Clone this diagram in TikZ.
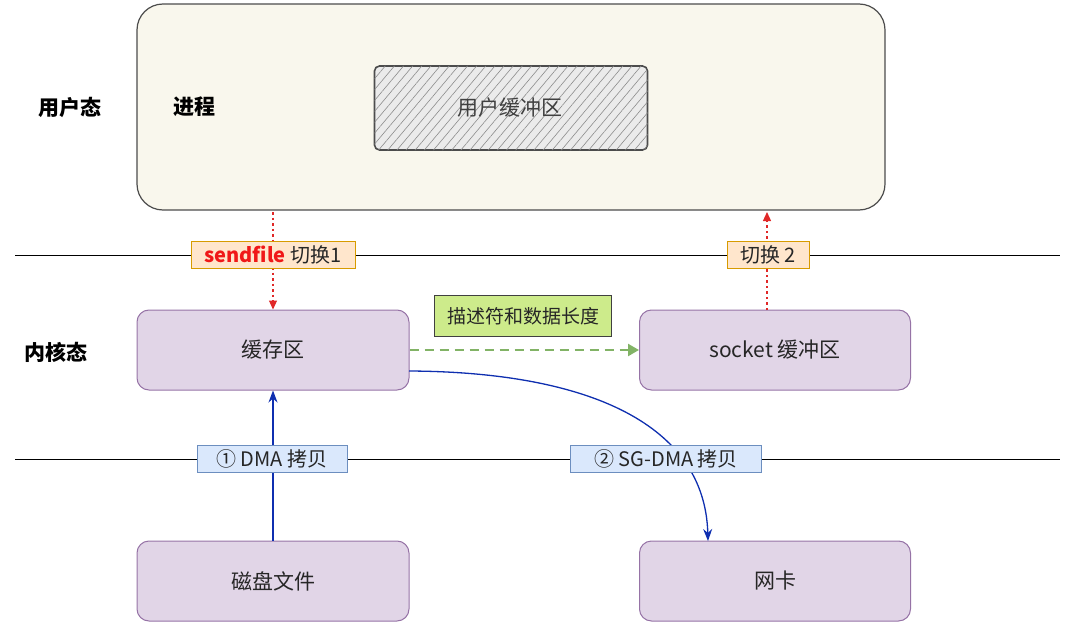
\documentclass[tikz,border=0pt]{standalone}
\usepackage{fontspec}
\setmainfont{Noto Sans CJK SC}
\usetikzlibrary{arrows.meta,patterns.meta}
\definecolor{cream}{HTML}{F9F7ED}
\definecolor{purfill}{HTML}{E1D5E7}
\definecolor{purdraw}{HTML}{9673A6}
\definecolor{orfill}{HTML}{FFE6CC}
\definecolor{ordraw}{HTML}{D79B00}
\definecolor{bluefill}{HTML}{DAE8FC}
\definecolor{bluedraw}{HTML}{6C8EBF}
\definecolor{limefill}{HTML}{CDEB8B}
\definecolor{greenarrow}{HTML}{82B366}
\definecolor{redarrow}{HTML}{E02828}
\definecolor{bluearrow}{HTML}{0F2FB0}
\definecolor{sendred}{HTML}{F01818}
\tikzset{
  x=1pt,y=-1pt,
  every node/.style={font=\fontsize{21}{24}\selectfont, text=black!85, inner sep=0pt},
  kbox/.style={draw=purdraw, fill=purfill, line width=1pt, rounded corners=12pt, minimum width=272pt, minimum height=80pt},
  olabel/.style={draw=ordraw, fill=orfill, line width=0.8pt, minimum height=27pt, font=\fontsize{20}{22}\selectfont},
  blabel/.style={draw=bluedraw, fill=bluefill, line width=0.8pt, minimum height=27pt, font=\fontsize{20}{22}\selectfont},
  sidelabel/.style={font=\bfseries\fontsize{21}{24}\selectfont, text=black},
  redarr/.style={draw=redarrow, line width=1.2pt, dash pattern=on 2.5pt off 3pt, -{Triangle[length=9pt,width=8pt]}},
  bluearr/.style={draw=bluearrow, line width=1.3pt, -{Stealth[length=12pt,width=9pt]}},
  greenarr/.style={draw=greenarrow, line width=2.4pt, dash pattern=on 9pt off 6pt, -{Triangle[length=11pt,width=12pt]}},
  sepline/.style={draw=black, line width=1pt}
}
\begin{document}
\begin{tikzpicture}
\useasboundingbox (0,0) rectangle (1080,634);
% top process box
\node[draw=black!70, fill=cream, line width=1.2pt, rounded corners=26pt, minimum width=748pt, minimum height=206pt] (top) at (511,107) {};
\node[draw=black!70, line width=1.6pt, rounded corners=5pt, minimum width=273pt, minimum height=84pt,
      fill=black!8, postaction={pattern={Lines[angle=50,distance=7pt,line width=0.6pt]}, pattern color=black!45}] (ubuf) at (511,108) {};
\node[text=black!75, font=\fontsize{21}{24}\selectfont] (ubuftext) at (510,108) {用户缓冲区};
\node[sidelabel] (user) at (70,107) {用户态};
\node[sidelabel] (proc) at (194,107) {进程};
\node[sidelabel] (kern) at (56,352) {内核态};

% separator lines
\coordinate (l1a) at (15,255);
\coordinate (l1b) at (1060,255);
\coordinate (l2a) at (15,459);
\coordinate (l2b) at (1060,459);
\draw[sepline] (l1a) -- (l1b);
\draw[sepline] (l2a) -- (l2b);

% kernel boxes
\node[kbox] (buf) at (273,350) {缓存区};
\node[kbox, minimum width=271pt] (sock) at (775,350) {socket 缓冲区};
\node[kbox] (disk) at (273,581) {磁盘文件};
\node[kbox, minimum width=271pt] (nic) at (775,581) {网卡};

% arrows
\draw[redarr] (buf.north |- 0,212) -- (buf.north);
\coordinate (sockup) at (767,310);
\draw[redarr] (sockup) -- (sockup |- 0,212);
\draw[greenarr] (buf.east) -- (sock.west);
\draw[bluearr] (disk.north) -- (buf.south);
\coordinate (curvestart) at (409,371);
\coordinate (curveend) at (708,541);
\draw[bluearr] (curvestart) .. controls (590,372) and (705,425) .. (curveend);

% labels on lines
\node[olabel, minimum width=164pt] (sf) at (273,255) {\textcolor{sendred}{\bfseries sendfile} 切换1};
\node[olabel, minimum width=82pt] (sw2) at (768,255) {切换 2};
\node[draw=black!75, fill=limefill, line width=0.8pt, minimum width=177pt, minimum height=41pt, font=\fontsize{19}{22}\selectfont] (desc) at (523,316) {描述符和数据长度};
\node[blabel, minimum width=150pt] (dma) at (272,459) {① DMA 拷贝};
\node[blabel, minimum width=191pt] (sgdma) at (666,459) {② SG-DMA 拷贝};
\end{tikzpicture}
\end{document}
